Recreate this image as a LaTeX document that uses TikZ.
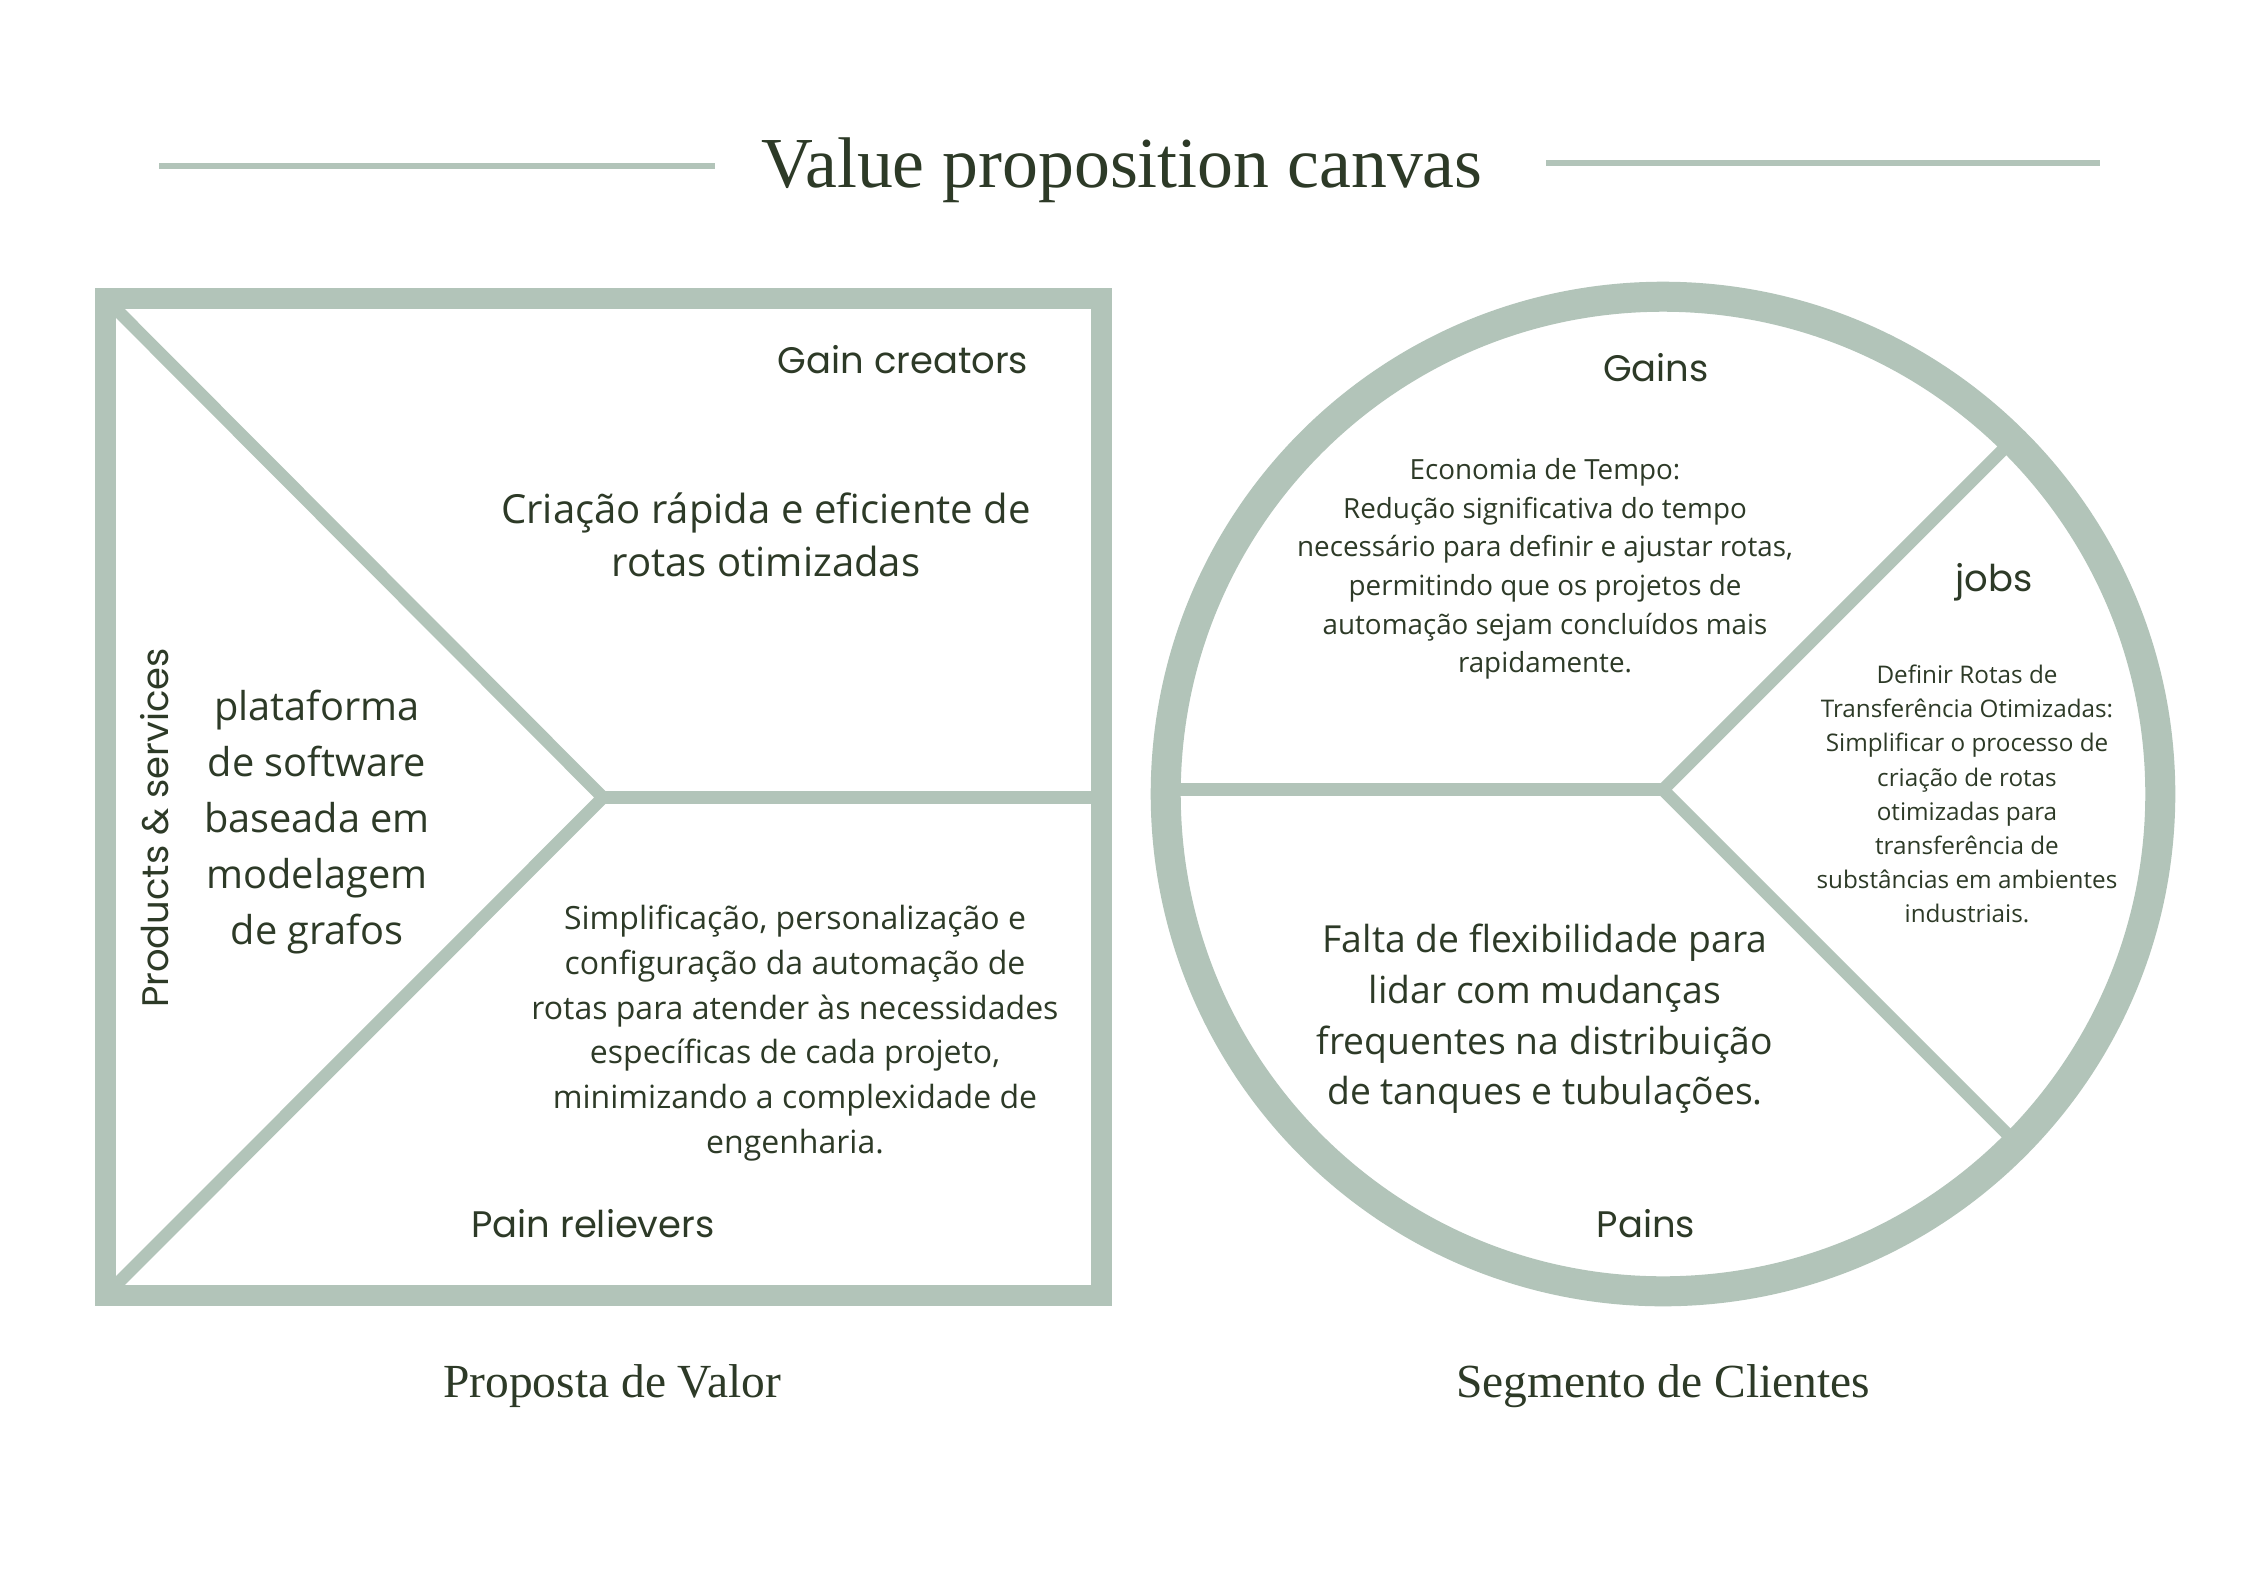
\documentclass[tikz,border=0pt]{standalone}
\usepackage{fontspec}
\setmainfont{Liberation Serif}
\newfontfamily\bodyfont{Open Sans}
\newfontfamily\labelfont{Poppins}
\definecolor{sage}{HTML}{B2C4B9}
\definecolor{ink}{HTML}{2D3A27}

\tikzset{
  frame/.style={draw=sage, line width=0.213cm},
  ring/.style={draw=sage, line width=0.30cm},
  divider/.style={draw=sage, line width=0.125cm},
  rule/.style={draw=sage, line width=0.066cm},
  txt/.style={text=ink, inner sep=0pt, align=center},
  heading/.style={txt, font=\fontsize{20.4}{24}\selectfont},
  caption/.style={txt, font=\fontsize{13.5}{16}\selectfont},
  tag/.style={txt, font=\labelfont\fontsize{10.5}{13}\selectfont},
  bigbody/.style={txt, font=\bodyfont\fontsize{11.4}{15.1}\selectfont},
}

\begin{document}
\begin{tikzpicture}[x=0.01cm, y=-0.01cm]
\fill[white] (0,0) rectangle (2245,1587);
\useasboundingbox (0,0) rectangle (2245,1587);

% title with rules on either side
\node[heading, anchor=base] (title) at (1122,187) {Value proposition canvas};
\coordinate (rlA) at (159,166);
\coordinate (rlB) at (715,166);
\coordinate (rrA) at (1546,163);
\coordinate (rrB) at (2100,163);
\draw[rule] (rlA) -- (rlB);
\draw[rule] (rrA) -- (rrB);

% value proposition square
\coordinate (sqTL) at (105.5,298.5);
\coordinate (sqBR) at (1101.3,1295.5);
\coordinate (sqBL) at (105.5,1295.5);
\coordinate (tip) at (603,797.5);
\coordinate (sqR) at (1101.3,797.5);
\draw[frame] (sqTL) rectangle (sqBR);
\draw[divider] (sqTL) -- (tip) -- (sqBL);
\draw[divider] (tip) -- (sqR);

% customer segment circle
\coordinate (cc) at (1663,794);
\draw[ring] (cc) circle[radius=4.97cm];
\coordinate (cJ) at (1663,789.7);
\coordinate (cL) at (1166,789.7);
\coordinate (cUR) at (2012.3,440.4);
\coordinate (cLR) at (2016.6,1143.3);
\draw[divider] (cUR) -- (cJ) -- (cLR);
\draw[divider] (cL) -- (cJ);

% square labels and texts
\node[tag] (gaincr) at (903,360) {Gain creators};
\node[bigbody] (gaintxt) at (766,535) {Criação rápida e eficiente de\\rotas otimizadas};
\node[tag, rotate=90] (prodlbl) at (155,828) {Products \& services};
\node[txt, font=\bodyfont\fontsize{11.3}{15.9}\selectfont] (prodtxt) at (317,822)
  {plataforma\\de software\\baseada em\\modelagem\\de grafos};
\node[txt, font=\bodyfont\fontsize{9.1}{12.7}\selectfont] (paintxt) at (795,1033)
  {Simplificação, personalização e\\configuração da automação de\\rotas para atender às necessidades\\específicas de cada projeto,\\minimizando a complexidade de\\engenharia.};
\node[tag] (painrel) at (593,1224) {Pain relievers};

% circle labels and texts
\node[tag] (gains) at (1656,368) {Gains};
\node[txt, font=\bodyfont\fontsize{7.9}{11}\selectfont] (gainstxt) at (1545,569)
  {Economia de Tempo:\\Redução significativa do tempo\\necessário para definir e ajustar rotas,\\permitindo que os projetos de\\automação sejam concluídos mais\\rapidamente.};
\node[tag] (jobs) at (1994,582) {jobs};
\node[txt, font=\bodyfont\fontsize{6.9}{9.7}\selectfont] (jobstxt) at (1967,794)
  {Definir Rotas de\\Transferência Otimizadas:\\Simplificar o processo de\\criação de rotas\\otimizadas para\\transferência de\\substâncias em ambientes\\industriais.};
\node[txt, font=\bodyfont\fontsize{10.6}{14.4}\selectfont] (painstxt) at (1545,1019)
  {Falta de flexibilidade para\\lidar com mudanças\\frequentes na distribuição\\de tanques e tubulações.};
\node[tag] (pains) at (1646,1224) {Pains};

% captions under the two shapes
\node[caption, anchor=base] (capL) at (612,1397) {Proposta de Valor};
\node[caption, anchor=base] (capR) at (1663,1397) {Segmento de Clientes};
\end{tikzpicture}
\end{document}
